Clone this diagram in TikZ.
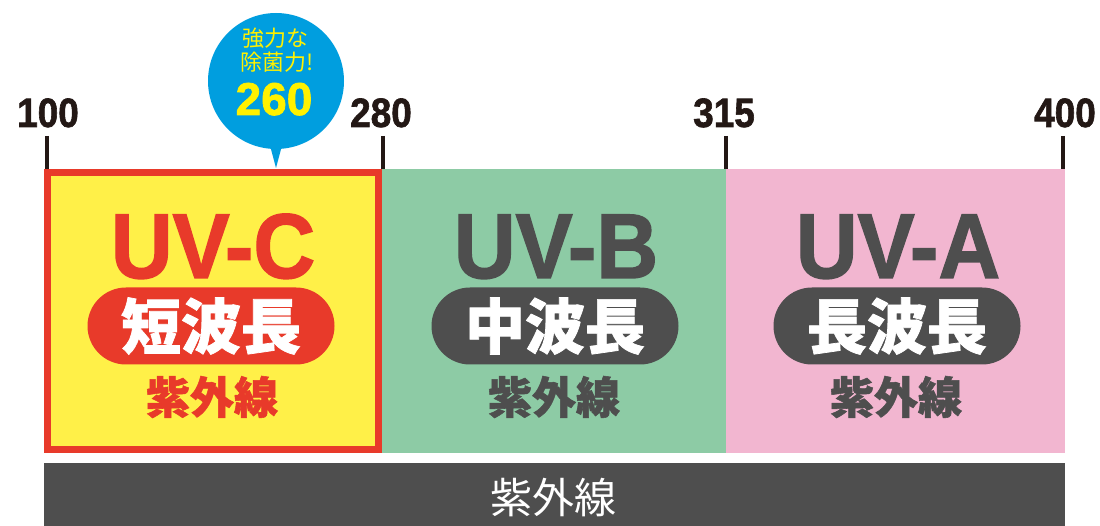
\documentclass[tikz,border=0pt]{standalone}
\usepackage{fontspec}
\setmainfont{Liberation Sans}
\newfontfamily\heavy{Liberation Sans}[BoldFeatures={FakeBold=1.6}]
\newfontfamily\cjk{Noto Sans CJK JP}[BoldFeatures={FakeBold=1.2}]
\newfontfamily\cjkplain{Noto Sans CJK JP}
\definecolor{uvred}{RGB}{232,58,42}
\definecolor{boxyellow}{RGB}{255,240,72}
\definecolor{uvgreen}{RGB}{141,203,165}
\definecolor{uvpink}{RGB}{242,182,208}
\definecolor{darkgray}{RGB}{78,78,78}
\definecolor{tickcol}{RGB}{35,24,21}
\definecolor{bubble}{RGB}{0,158,223}
\definecolor{bubtext}{RGB}{255,241,0}
\tikzset{
  band/.style={inner sep=0pt, outer sep=0pt, anchor=north west, minimum height=284pt},
  uvlabel/.style={font=\heavy\bfseries\fontsize{92}{92}\selectfont, anchor=base, inner sep=0pt},
  pill/.style={rounded corners=38.5pt, minimum width=247pt, minimum height=77pt, inner sep=0pt, text=white, font=\cjk\bfseries\fontsize{60}{60}\selectfont},
  sublabel/.style={font=\cjk\bfseries\fontsize{44}{44}\selectfont, inner sep=0pt},
  numlabel/.style={font=\heavy\bfseries\fontsize{41}{41}\selectfont, text=tickcol, anchor=base, inner sep=0pt},
  tickline/.style={draw=tickcol, line width=4.5pt},
}
\begin{document}
\begin{tikzpicture}[x=1pt,y=-1pt]
\useasboundingbox (0,0) rectangle (1100,526);
% bands
\node[band, fill=uvgreen, minimum width=344pt] (bandB) at (382,169) {};
\node[band, fill=uvpink, minimum width=339pt] (bandA) at (726,169) {};
\node[draw=uvred, line width=7pt, fill=boxyellow, minimum width=331pt, minimum height=277pt, inner sep=0pt, outer sep=0pt, anchor=north west] (bandC) at (47.5,172.5) {};
% ticks
\coordinate (t1a) at (47,136); \coordinate (t1b) at (47,169);
\coordinate (t2a) at (383,136); \coordinate (t2b) at (383,169);
\coordinate (t3a) at (726,136); \coordinate (t3b) at (726,169);
\coordinate (t4a) at (1063,136); \coordinate (t4b) at (1063,169);
\draw[tickline] (t1a) -- (t1b);
\draw[tickline] (t2a) -- (t2b);
\draw[tickline] (t3a) -- (t3b);
\draw[tickline] (t4a) -- (t4b);
\node[numlabel] (n100) at (48,127) {\scalebox{0.9}[1]{100}};
\node[numlabel] (n280) at (381,127) {\scalebox{0.9}[1]{280}};
\node[numlabel] (n315) at (724,127) {\scalebox{0.9}[1]{315}};
\node[numlabel] (n400) at (1065,127) {\scalebox{0.9}[1]{400}};
% UV-C
\node[uvlabel, text=uvred] (uvc) at (213,278) {\scalebox{0.93}[1]{UV-C}};
\node[pill, fill=uvred] (pillc) at (211,326) {短波長};
\node[sublabel, text=uvred] (subc) at (212,397) {紫外線};
% UV-B
\node[uvlabel, text=darkgray] (uvb) at (556,278) {\scalebox{0.93}[1]{UV-B}};
\node[pill, fill=darkgray] (pillb) at (555,326) {中波長};
\node[sublabel, text=darkgray] (subb) at (554,397) {紫外線};
% UV-A
\node[uvlabel, text=darkgray] (uva) at (898,278) {\scalebox{0.93}[1]{UV-A}};
\node[pill, fill=darkgray] (pilla) at (897,326) {長波長};
\node[sublabel, text=darkgray] (suba) at (896,397) {紫外線};
% bottom bar
\node[fill=darkgray, minimum width=1021pt, minimum height=63pt, inner sep=0pt, outer sep=0pt, anchor=north west] (bar) at (44,463) {};
\node[font=\cjkplain\fontsize{42}{42}\selectfont, text=white, inner sep=0pt] (bartext) at (553,498) {紫外線};
% bubble
\node[circle, fill=bubble, minimum size=136pt, inner sep=0pt] (bub) at (276,81) {};
\coordinate (tip) at (276,168);
\fill[bubble] (268,138) -- (tip) -- (284,138) -- cycle;
\node[font=\cjkplain\fontsize{22}{22}\selectfont, text=bubtext, inner sep=0pt] (b1) at (275,38) {強力な};
\node[font=\cjkplain\fontsize{22}{22}\selectfont, text=bubtext, inner sep=0pt] (b2) at (277,62) {除菌力!};
\node[font=\heavy\bfseries\fontsize{46}{46}\selectfont, text=bubtext, anchor=base, inner sep=0pt] (b3) at (274,115) {260};
\end{tikzpicture}
\end{document}
